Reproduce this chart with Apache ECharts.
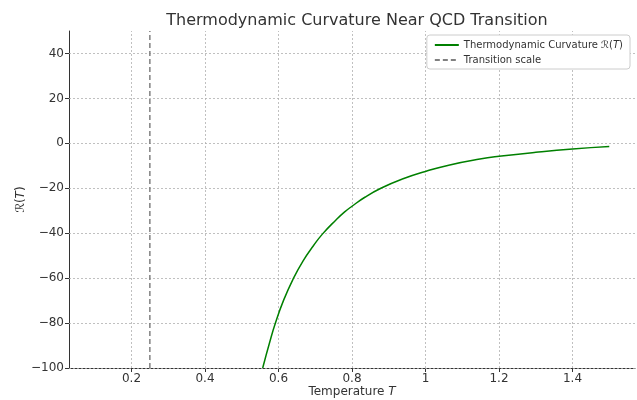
<!DOCTYPE html>
<html>
<head>
<meta charset="utf-8">
<script src="https://cdn.jsdelivr.net/npm/echarts@6/dist/echarts.min.js"></script>
<style>
  html, body { margin: 0; padding: 0; background: #fff; }
  #chart { width: 637px; height: 400px; }
</style>
</head>
<body>
<div id="chart"></div>
<script>
// values
const temps = [0.557, 0.577, 0.591, 0.614, 0.641, 0.667, 0.695, 0.72, 0.757, 0.78, 0.8, 0.835, 0.88, 0.937, 1.0, 1.066, 1.148, 1.2, 1.3, 1.4, 1.5]
const curvature = [-100, -88, -80.3, -69.8, -60, -52.3, -45.6, -40.3, -34.0, -30.5, -28, -24, -19.9, -15.9, -12.5, -9.6, -7.0, -5.8, -4.0, -2.5, -1.4]
const transitionT = 0.25
const xTicks = [0.2, 0.4, 0.6, 0.8, 1.0, 1.2, 1.4]
const yTicks = [-100, -80, -60, -40, -20, 0, 20, 40]
const xRange = [0.03, 1.57]
const yRange = [-100, 50]

const fontFamily = 'DejaVu Sans'
const inkColor = '#333333'

const chart = echarts.init(document.getElementById('chart'))

const gridLines = [
  ...xTicks.map(v => ({ xAxis: v })),
  ...yTicks.map(v => ({ yAxis: v })),
]

const fmtNum = (v) => {
  const s = Math.abs(v) < 1e-9 ? '0' : (Number.isInteger(v) ? String(v) : v.toFixed(1))
  return s.replace('-', '\u2212')
}

const italicRich = (size) => ({ i: { fontFamily, fontSize: size, fontStyle: 'italic', color: inkColor } })

chart.setOption({
  animation: false,
  textStyle: { fontFamily },
  title: {
    text: 'Thermodynamic Curvature Near QCD Transition',
    left: 352,
    textAlign: 'center',
    top: 8,
    textStyle: { fontFamily, fontSize: 16, fontWeight: 'normal', color: inkColor },
  },
  legend: {
    orient: 'vertical',
    right: 7,
    top: 35,
    backgroundColor: '#fff',
    borderColor: '#cccccc',
    borderWidth: 1,
    borderRadius: 3,
    padding: [5, 7, 4, 7],
    itemGap: 5,
    itemWidth: 24,
    itemHeight: 10,
    // hide the marker dot, keep only the line sample
    itemStyle: { color: 'rgba(0,0,0,0)', borderWidth: 0 },
    formatter: (name) => name === 'curve' ? 'Thermodynamic Curvature \u211B({i|T})' : 'Transition scale',
    textStyle: { fontFamily, fontSize: 10, color: inkColor, rich: italicRich(10) },
    data: ['curve', 'transition'],
  },
  grid: { left: 69, right: 2, top: 31, bottom: 32, containLabel: false, outerBoundsMode: 'none' },
  xAxis: {
    type: 'value',
    min: xRange[0],
    max: xRange[1],
    name: 'Temperature {i|T}',
    nameLocation: 'middle',
    nameGap: 18,
    nameMoveOverlap: false,
    nameTextStyle: { fontFamily, fontSize: 12, color: inkColor, rich: italicRich(12) },
    axisLine: { show: true, onZero: false, lineStyle: { color: inkColor, width: 1 } },
    axisTick: { show: true, customValues: xTicks, length: 4, lineStyle: { color: inkColor } },
    axisLabel: { customValues: xTicks, formatter: fmtNum, color: inkColor, fontSize: 12, margin: 5 },
    splitLine: { show: false },
  },
  yAxis: {
    type: 'value',
    min: yRange[0],
    max: yRange[1],
    name: '\u211B({i|T})',
    nameLocation: 'middle',
    nameRotate: 90,
    nameGap: 42,
    nameMoveOverlap: false,
    nameTextStyle: { fontFamily, fontSize: 12, color: inkColor, rich: italicRich(12) },
    axisLine: { show: true, onZero: false, lineStyle: { color: inkColor, width: 1 } },
    axisTick: { show: true, customValues: yTicks, length: 4, lineStyle: { color: inkColor } },
    axisLabel: { customValues: yTicks, formatter: fmtNum, color: inkColor, fontSize: 12, margin: 5 },
    splitLine: { show: false },
  },
  series: [
    {
      name: 'transition',
      type: 'line',
      symbol: 'none',
      silent: true,
      z: 3,
      itemStyle: { color: '#808080' },
      lineStyle: { color: '#808080', width: 1.5, type: [5, 3] },
      data: [[transitionT, yRange[0]], [transitionT, yRange[1]]],
      markLine: {
        silent: true,
        symbol: 'none',
        label: { show: false },
        z: 1,
        lineStyle: { color: '#b0b0b0', width: 0.8, type: [2, 2] },
        data: gridLines,
      },
    },
    {
      name: 'curve',
      type: 'line',
      symbol: 'none',
      smooth: 0.5,
      clip: true,
      z: 4,
      itemStyle: { color: '#008000' },
      lineStyle: { color: '#008000', width: 1.5 },
      data: temps.map((t, i) => [t, curvature[i]]),
    },
  ],
})
</script>
</body>
</html>
